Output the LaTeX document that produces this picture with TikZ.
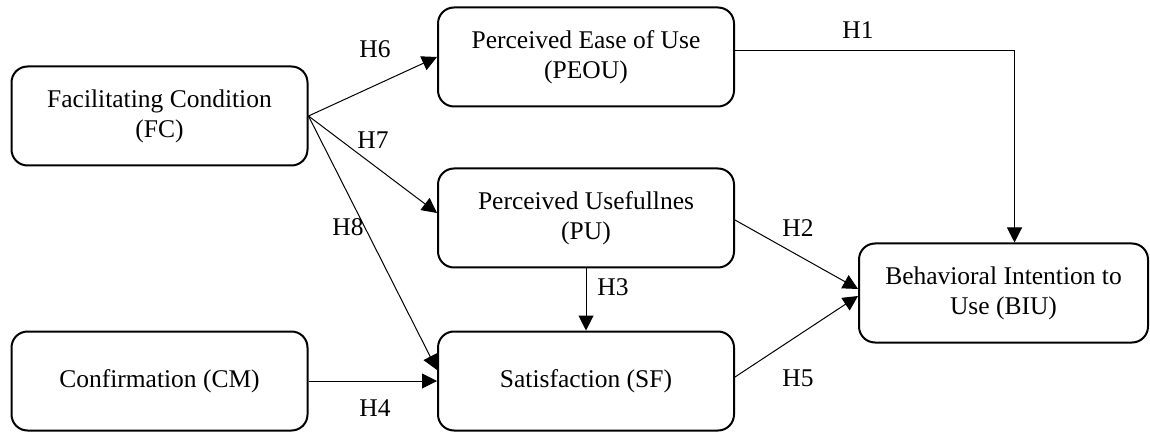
\documentclass[tikz,border=0pt]{standalone}
\usepackage{fontspec}
\setmainfont{Liberation Serif}
\usetikzlibrary{arrows.meta,calc}
\begin{document}
\begin{tikzpicture}[x=1pt,y=-1pt,
  box/.style={draw,line width=2pt,rounded corners=16pt,minimum width=296pt,minimum height=99pt,align=center,inner sep=0pt,font=\fontsize{25.5}{30}\selectfont},
  conn/.style={line width=1pt,-{Triangle[length=15pt,width=15pt]}},
  lbl/.style={font=\fontsize{25.5}{30}\selectfont,inner sep=0pt}]
\useasboundingbox (0,0) rectangle (1150,435);
\node[box] (FC) at (159.5,116) {Facilitating Condition\\(FC)};
\node[box] (PEOU) at (586,57) {Perceived Ease of Use\\(PEOU)};
\node[box] (PU) at (586,218) {Perceived Usefullnes\\(PU)};
\node[box] (SF) at (586,381) {Satisfaction (SF)};
\node[box] (CM) at (159.5,381) {Confirmation (CM)};
\node[box,minimum width=289pt] (BIU) at (1003.5,293) {Behavioral Intention to\\Use (BIU)};
\draw[conn] (FC.east) -- (PEOU.west);
\draw[conn] (FC.east) -- ([yshift=5pt]PU.west);
\draw[conn] (FC.east) -- ([yshift=11pt]SF.west);
\draw[conn] (CM.east) -- (SF.west);
\draw[conn] (PU.south) -- (SF.north);
\draw[conn] ([yshift=-2pt]PU.east) -- ([yshift=4pt]BIU.west);
\draw[conn] ([yshift=4pt]SF.east) -- ([yshift=-3pt]BIU.west);
\draw[conn] ([yshift=6pt]PEOU.east) -| ([xshift=11pt]BIU.north);
\node[lbl] (H1) at (858,30) {H1};
\node[lbl] (H2) at (798,228) {H2};
\node[lbl] (H3) at (613,287) {H3};
\node[lbl] (H4) at (375,408) {H4};
\node[lbl] (H5) at (798,378) {H5};
\node[lbl] (H6) at (375,49) {H6};
\node[lbl] (H7) at (373,140) {H7};
\node[lbl] (H8) at (348,227) {H8};
\end{tikzpicture}
\end{document}
